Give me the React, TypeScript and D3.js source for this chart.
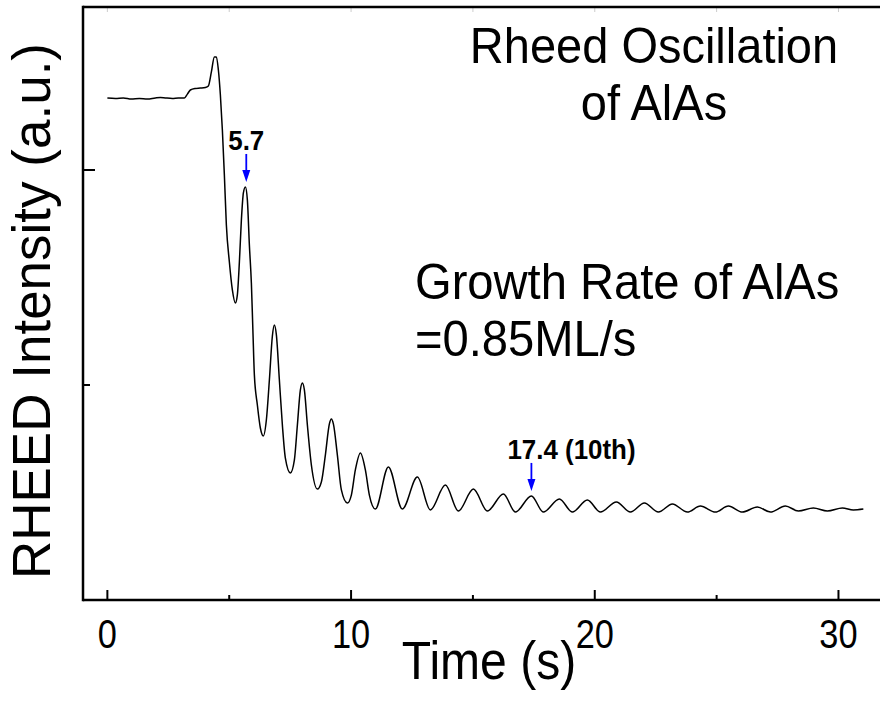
import React from "react";
import * as d3 from "d3";

// Time (s) and RHEED intensity (a.u.)
const timeS = [
  0, 0.328, 0.657, 0.985, 1.313, 1.641, 1.97, 2.175, 2.38, 2.667, 2.913, 3.16,
  3.283, 3.406, 3.611, 3.816, 4.021, 4.144, 4.268, 4.391, 4.473, 4.555, 4.637,
  4.719, 4.801, 4.883, 5.006, 5.129, 5.252, 5.334, 5.417, 5.499, 5.581, 5.663,
  5.745, 5.827, 5.909, 5.971, 6.032, 6.155, 6.278, 6.401, 6.524, 6.648, 6.771,
  6.853, 6.935, 7.058, 7.181, 7.304, 7.509, 7.673, 7.797, 7.92, 8.002, 8.084,
  8.207, 8.371, 8.617, 8.781, 8.945, 9.11, 9.192, 9.274, 9.438, 9.602, 9.848,
  10.012, 10.176, 10.382, 10.587, 10.751, 10.997, 11.531, 12.105, 12.721,
  13.254, 13.87, 14.403, 15.019, 15.593, 16.25, 16.742, 17.399, 17.891, 18.547,
  19.081, 19.696, 20.23, 20.886, 21.461, 22.035, 22.61, 23.184, 23.8, 24.333,
  24.949, 25.482, 26.057, 26.672, 27.206, 27.821, 28.355, 28.97, 29.545, 30.16,
  30.611, 31.021,
];
const intensity = [
  2.335, 2.333, 2.335, 2.33, 2.333, 2.33, 2.335, 2.337, 2.335, 2.333, 2.335,
  2.335, 2.353, 2.372, 2.379, 2.381, 2.384, 2.391, 2.456, 2.526, 2.526, 2.465,
  2.349, 2.186, 1.977, 1.744, 1.572, 1.442, 1.381, 1.419, 1.572, 1.767, 1.893,
  1.921, 1.86, 1.651, 1.474, 1.256, 1.047, 0.907, 0.8, 0.763, 0.837, 1.023,
  1.228, 1.279, 1.233, 1.023, 0.814, 0.66, 0.591, 0.651, 0.814, 0.977, 1.009,
  0.977, 0.814, 0.628, 0.516, 0.549, 0.674, 0.819, 0.842, 0.819, 0.674, 0.512,
  0.451, 0.488, 0.605, 0.684, 0.605, 0.488, 0.423, 0.619, 0.423, 0.572, 0.419,
  0.535, 0.414, 0.516, 0.414, 0.493, 0.409, 0.484, 0.409, 0.47, 0.409, 0.465,
  0.409, 0.456, 0.409, 0.451, 0.409, 0.447, 0.409, 0.437, 0.409, 0.437, 0.409,
  0.433, 0.409, 0.437, 0.414, 0.428, 0.414, 0.428, 0.419, 0.423,
];

const xMajorTicks = [0, 10, 20, 30];
const xMinorTicks = [5, 15, 25];
const yMajorTicks = [2];
const yMinorTicks = [1];

const annotations = [
  { t: 5.7, value: 1.921, label: "5.7", anchor: "middle", dx: 0 },
  { t: 17.4, value: 0.484, label: "17.4 (10th)", anchor: "start", dx: -24 },
];

const W = 880;
const H = 707;
const FONT = "'Liberation Sans', Arial, Helvetica, sans-serif";

function SText(props: {
  x: number;
  y: number;
  size: number;
  anchor?: string;
  bold?: boolean;
  sx?: number;
  children: React.ReactNode;
}) {
  const { x, y, size, anchor = "start", bold = false, sx = 1, children } = props;
  return (
    <text
      transform={`translate(${x},${y}) scale(${sx},1)`}
      fontSize={size}
      textAnchor={anchor as any}
      fontWeight={bold ? "bold" : "normal"}
    >
      {children}
    </text>
  );
}

export default function App() {
  const x = d3.scaleLinear().domain([-1, 32]).range([83, 83 + 33 * 24.37]);
  const y = d3.scaleLinear().domain([0, 2.758]).range([600, 7]);

  const data = timeS.map((t, i) => [t, intensity[i]] as [number, number]);
  const line = d3
    .line<[number, number]>()
    .x((d) => x(d[0]))
    .y((d) => y(d[1]))
    .curve(d3.curveMonotoneX);

  const left = x(-1);
  const bottom = y(0);
  const top = y(2.758);

  return (
    <svg
      width={W}
      height={H}
      style={{ position: "absolute", left: 0, top: 0, background: "#fff" }}
      fontFamily={FONT}
    >
      <rect x={0} y={0} width={W} height={H} fill="#fff" />
      {/* faint top ticks */}
      {[...xMajorTicks, ...xMinorTicks].map((t) => (
        <line key={"tt" + t} x1={x(t)} x2={x(t)} y1={top} y2={top + 5} stroke="#ccc" strokeWidth={1} />
      ))}
      {/* frame */}
      <line x1={left} x2={W} y1={top} y2={top} stroke="#000" strokeWidth={2.5} />
      <line x1={left} x2={W} y1={bottom} y2={bottom} stroke="#000" strokeWidth={2.5} />
      <line x1={left} x2={left} y1={top - 1.25} y2={bottom + 1.25} stroke="#000" strokeWidth={2.5} />

      {/* x ticks */}
      {xMajorTicks.map((t) => (
        <g key={"xm" + t}>
          <line x1={x(t)} x2={x(t)} y1={bottom} y2={bottom - 10} stroke="#000" strokeWidth={2} />
          <SText x={x(t)} y={648} size={40} anchor="middle" sx={0.86}>
            {t}
          </SText>
        </g>
      ))}
      {xMinorTicks.map((t) => (
        <line key={"xn" + t} x1={x(t)} x2={x(t)} y1={bottom} y2={bottom - 5} stroke="#000" strokeWidth={2} />
      ))}
      {/* y ticks */}
      {yMajorTicks.map((v) => (
        <line key={"ym" + v} x1={left} x2={left + 12} y1={y(v)} y2={y(v)} stroke="#000" strokeWidth={2} />
      ))}
      {yMinorTicks.map((v) => (
        <line key={"yn" + v} x1={left} x2={left + 7} y1={y(v)} y2={y(v)} stroke="#000" strokeWidth={2} />
      ))}

      {/* trace */}
      <path d={line(data) || ""} fill="none" stroke="#000" strokeWidth={1.5} strokeLinejoin="round" />

      {/* annotations */}
      {annotations.map((a) => {
        const ax = x(a.t);
        const tip = y(a.value) - 5;
        return (
          <g key={a.label}>
            <line x1={ax} x2={ax} y1={tip - 28} y2={tip - 10} stroke="#0000ff" strokeWidth={1.8} />
            <path d={`M${ax - 4},${tip - 12} L${ax + 4},${tip - 12} L${ax},${tip} Z`} fill="#0000ff" />
            <SText x={ax + a.dx} y={tip - 32} size={27} bold anchor={a.anchor} sx={0.96}>
              {a.label}
            </SText>
          </g>
        );
      })}

      {/* texts */}
      <SText x={654} y={63} size={50} anchor="middle" sx={0.94}>Rheed Oscillation</SText>
      <SText x={654} y={120} size={50} anchor="middle" sx={0.94}>of AlAs</SText>
      <SText x={415} y={299} size={50} sx={0.943}>Growth Rate of AlAs</SText>
      <SText x={415} y={356} size={50} sx={0.943}>=0.85ML/s</SText>

      <SText x={489} y={679} size={54} anchor="middle" sx={0.89}>Time (s)</SText>
      <text
        transform={`translate(50,${311}) rotate(-90)`}
        fontSize={53}
        textAnchor="middle"
      >
        RHEED Intensity (a.u.)
      </text>
    </svg>
  );
}
